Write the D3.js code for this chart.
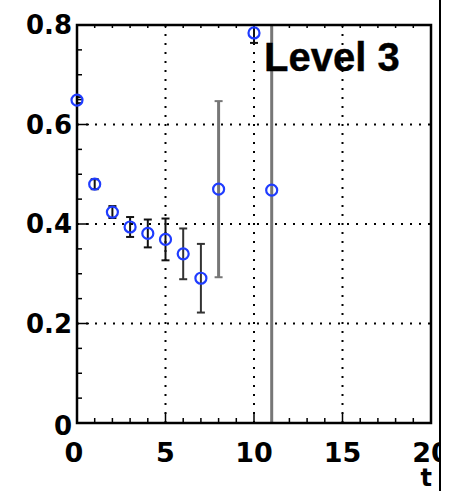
<!DOCTYPE html>
<html>
<head>
<meta charset="utf-8">
<script src="https://cdn.jsdelivr.net/npm/d3@7"></script>
<style>
  body { margin: 0; background: #fff; }
  text { font-family: "DejaVu Sans", sans-serif; font-weight: bold; }
  text.title { font-family: "Liberation Sans", Arial, sans-serif; }
</style>
</head>
<body>
<script>
// data
var tVals   = [0, 1, 2, 3, 4, 5, 6, 7, 8, 10, 11];
var yVals   = [0.649, 0.480, 0.424, 0.394, 0.381, 0.369, 0.340, 0.291, 0.470, 0.784, 0.468];
var errVals = [0.006, 0.010, 0.012, 0.020, 0.028, 0.042, 0.051, 0.069, 0.177, 0.020, 0.600];
var xTicks = [0, 5, 10, 15, 20];
var yTicks = [0, 0.2, 0.4, 0.6, 0.8];
var yTickLabels = ["0", "0.2", "0.4", "0.6", "0.8"];
var title = "Level 3";
var xLabel = "t";

var W = 451, H = 491;
var fL = 77, fR = 431, fT = 25, fB = 423;

var x = d3.scaleLinear().domain([0, 20]).range([fL, fR]);
var y = d3.scaleLinear().domain([0, 0.8]).range([fB, fT]);

var svg = d3.select("body").append("svg")
    .attr("width", W)
    .attr("height", H);

svg.append("defs").append("clipPath").attr("id", "frame")
  .append("rect")
    .attr("x", fL).attr("y", fT)
    .attr("width", fR - fL).attr("height", fB - fT);

// grid
var grid = svg.append("g");
grid.selectAll(".gx")
    .data(xTicks.filter(function(d){ return d > 0 && d < 20; }))
  .enter().append("line")
    .attr("x1", function(d){ return x(d); }).attr("x2", function(d){ return x(d); })
    .attr("y1", fT).attr("y2", fB)
    .attr("stroke", "#000").attr("stroke-width", 2)
    .attr("stroke-dasharray", "2,7");
grid.selectAll(".gy")
    .data(yTicks.filter(function(d){ return d > 0 && d < 0.8; }))
  .enter().append("line")
    .attr("y1", function(d){ return y(d); }).attr("y2", function(d){ return y(d); })
    .attr("x1", fL).attr("x2", fR)
    .attr("stroke", "#000").attr("stroke-width", 2)
    .attr("stroke-dasharray", "2,7");

// minor / major ticks (inward)
var ticks = svg.append("g").attr("stroke", "#000").attr("stroke-width", 1.5);
d3.range(0, 20.5, 1).forEach(function(v){
  var len = (v % 5 === 0) ? 10 : 5;
  ticks.append("line").attr("x1", x(v)).attr("x2", x(v))
    .attr("y1", fB).attr("y2", fB - len);
  ticks.append("line").attr("x1", x(v)).attr("x2", x(v))
    .attr("y1", fT).attr("y2", fT + 3);
});
d3.range(0, 0.81, 0.05).forEach(function(v){
  var len = (Math.round(v * 100) % 20 === 0) ? 12 : 5;
  ticks.append("line").attr("y1", y(v)).attr("y2", y(v))
    .attr("x1", fL).attr("x2", fL + len);
});

// error bars
var data = tVals.map(function(t, i){ return {t: t, v: yVals[i], e: errVals[i]}; });
var bars = svg.append("g").attr("clip-path", "url(#frame)");
data.forEach(function(d){
  var col = d.e > 0.1 ? "#777" : (d.e > 0.045 ? "#333" : "#111");
  var w = d.e > 0.1 ? 3 : 2;
  bars.append("line")
    .attr("x1", x(d.t)).attr("x2", x(d.t))
    .attr("y1", y(d.v + d.e)).attr("y2", y(d.v - d.e))
    .attr("stroke", col).attr("stroke-width", w);
  [d.v + d.e, d.v - d.e].forEach(function(c){
    bars.append("line")
      .attr("x1", x(d.t) - 4).attr("x2", x(d.t) + 4)
      .attr("y1", y(c)).attr("y2", y(c))
      .attr("stroke", col).attr("stroke-width", 2);
  });
});

// frame
svg.append("rect")
    .attr("x", fL).attr("y", fT)
    .attr("width", fR - fL).attr("height", fB - fT)
    .attr("fill", "none").attr("stroke", "#000").attr("stroke-width", 2.5);

// markers
svg.append("g").selectAll("circle")
    .data(data)
  .enter().append("circle")
    .attr("cx", function(d){ return x(d.t); })
    .attr("cy", function(d){ return y(d.v); })
    .attr("r", 5.5)
    .attr("fill", "none")
    .attr("stroke", "#1f3cff")
    .attr("stroke-width", 2.2);

// tick labels
svg.append("g").selectAll("text")
    .data(yTicks)
  .enter().append("text")
    .attr("x", 72)
    .attr("y", function(d){ return d === 0 ? y(d) + 12 : y(d) + 9; })
    .attr("text-anchor", "end")
    .attr("font-size", 26)
    .text(function(d, i){ return yTickLabels[i]; });

svg.append("g").selectAll("text")
    .data(xTicks)
  .enter().append("text")
    .attr("x", function(d){ return d === 0 ? x(d) - 3 : x(d); })
    .attr("y", 462)
    .attr("text-anchor", "middle")
    .attr("font-size", 27)
    .text(function(d){ return d; });

svg.append("text")
    .attr("x", 432).attr("y", 486)
    .attr("text-anchor", "end")
    .attr("font-size", 24)
    .text(xLabel);

svg.append("text")
    .attr("class", "title")
    .attr("x", 264).attr("y", 71)
    .attr("font-size", 40)
    .attr("stroke", "#000").attr("stroke-width", 0.4)
    .text(title);

// clipped right edge of the picture
svg.append("rect")
    .attr("x", 441).attr("y", 0)
    .attr("width", W - 441).attr("height", H)
    .attr("fill", "#fff");
svg.append("line")
    .attr("x1", 440).attr("x2", 440)
    .attr("y1", 0).attr("y2", H)
    .attr("stroke", "#000").attr("stroke-width", 2);
</script>
</body>
</html>
